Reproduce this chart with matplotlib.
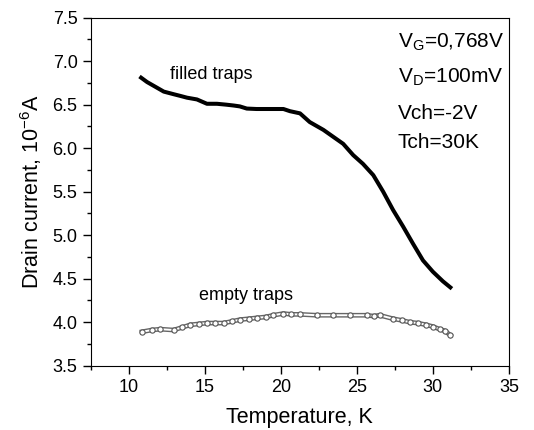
import matplotlib
matplotlib.use("Agg")
import matplotlib.pyplot as plt
from matplotlib.ticker import MultipleLocator

plt.rcParams['font.family'] = ['Liberation Sans', 'DejaVu Sans']
plt.rcParams['mathtext.fontset'] = 'custom'
plt.rcParams['mathtext.rm'] = 'Liberation Sans'
plt.rcParams['mathtext.it'] = 'Liberation Sans'

# filled traps
filled_T = [10.81, 11.2, 11.7, 12.3, 12.95, 13.4, 13.83, 14.48, 15.14, 15.8, 16.4,
            16.9, 17.3, 17.76, 18.4, 19.08, 19.6, 20.17, 20.6, 21.26, 21.9, 22.8,
            23.45, 24.1, 24.76, 25.4, 26.08, 26.73, 27.38, 28.04, 28.7, 29.35,
            30.0, 30.66, 31.15]
filled_I = [6.81, 6.76, 6.71, 6.65, 6.62, 6.60, 6.58, 6.56, 6.51, 6.51, 6.50,
            6.49, 6.48, 6.455, 6.45, 6.45, 6.45, 6.45, 6.425, 6.40, 6.30, 6.21,
            6.13, 6.05, 5.92, 5.82, 5.69, 5.50, 5.29, 5.10, 4.90, 4.71,
            4.58, 4.47, 4.40]

# empty traps
empty_T = [10.87, 11.5, 12.08, 12.95, 13.5, 14.05, 14.6, 15.14, 15.7, 16.23, 16.8,
           17.33, 17.9, 18.42, 19.0, 19.5, 20.17, 20.7, 21.26, 22.36, 23.45, 24.55,
           25.64, 26.1, 26.5, 27.38, 28.0, 28.47, 29.0, 29.56, 30.0, 30.44, 30.8, 31.15]
empty_I = [3.89, 3.91, 3.92, 3.91, 3.94, 3.97, 3.98, 3.99, 3.99, 3.99, 4.01,
           4.03, 4.04, 4.05, 4.06, 4.08, 4.10, 4.09, 4.09, 4.08, 4.08, 4.08,
           4.08, 4.07, 4.08, 4.04, 4.02, 4.00, 3.99, 3.97, 3.95, 3.92, 3.90, 3.85]

fig = plt.figure(figsize=(5.34, 4.30), dpi=100)
ax = fig.add_axes([0.170, 0.1495, 0.783, 0.8095])

ax.plot(filled_T, filled_I, color='black', lw=2.9, solid_joinstyle='round')
ax.plot(empty_T, empty_I, color='#666666', lw=3.4)
ax.plot(empty_T, empty_I, color='white', lw=1.4)
ax.plot(empty_T, empty_I, ls='none', marker='o', ms=3.8, mfc='white',
        mec='#555555', mew=0.8)

ax.set_xlim(7.5, 35)
ax.set_ylim(3.5, 7.5)
ax.xaxis.set_major_locator(MultipleLocator(5))
ax.xaxis.set_minor_locator(MultipleLocator(2.5))
ax.yaxis.set_major_locator(MultipleLocator(0.5))
ax.yaxis.set_minor_locator(MultipleLocator(0.25))
ax.tick_params(which='both', direction='out', top=False, right=False,
               labelsize=13, width=1)
ax.tick_params(which='major', length=6)
ax.tick_params(which='minor', length=3)
ax.yaxis.set_major_formatter(plt.FuncFormatter(lambda v, p: f'{v:.1f}'))

ax.set_xlabel('Temperature, K', fontsize=15.5, labelpad=8)
ax.set_ylabel(r'Drain current, 10$^{\mathregular{-6}}$A', fontsize=15.5, labelpad=6)

ax.text(12.7, 6.79, 'filled traps', fontsize=13)
ax.text(14.6, 4.255, 'empty traps', fontsize=13)

ax.text(27.7, 7.15, r'V$_\mathregular{G}$=0,768V', fontsize=15)
ax.text(27.7, 6.75, r'V$_\mathregular{D}$=100mV', fontsize=15)
ax.text(27.7, 6.33, 'Vch=-2V', fontsize=15)
ax.text(27.7, 6.0, 'Tch=30K', fontsize=15)

fig.savefig('out.png', dpi=100)
